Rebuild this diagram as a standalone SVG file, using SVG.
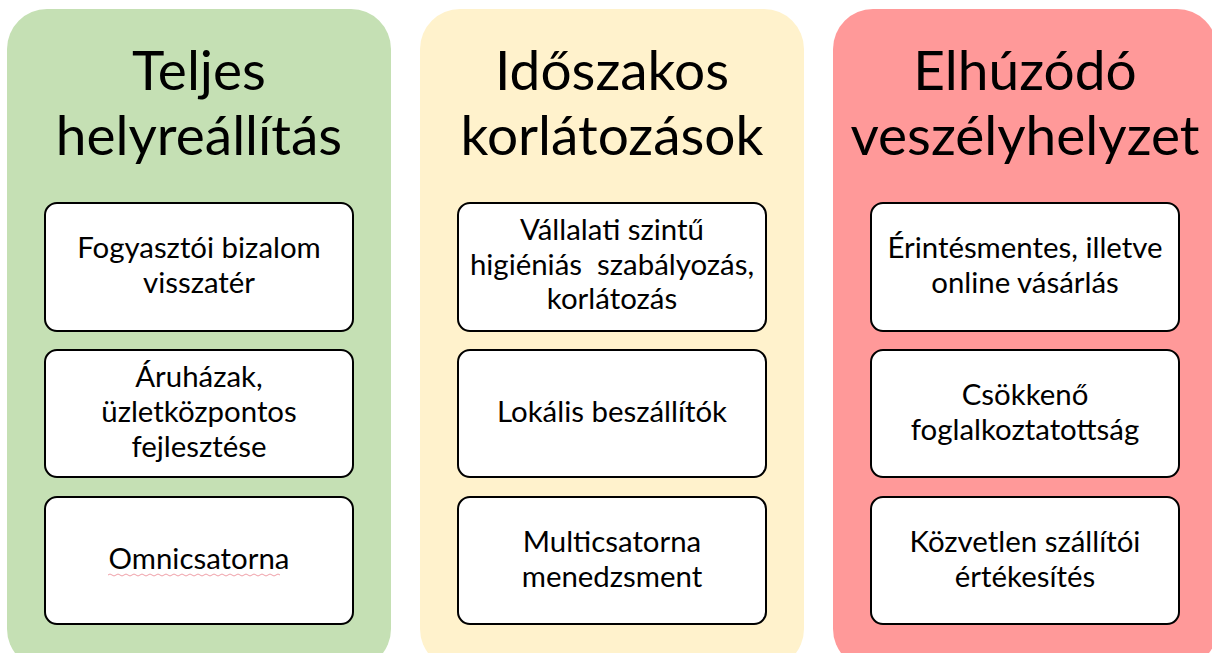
<svg xmlns="http://www.w3.org/2000/svg" width="1212" height="653" viewBox="0 0 1212 653">
<style>
.panel{stroke:none}
.box{fill:#fff;stroke:#000;stroke-width:2}
.title{font-family:Lato,"Liberation Sans",sans-serif;font-size:55px;fill:#000;text-anchor:middle}
.lbl{font-family:Lato,"Liberation Sans",sans-serif;font-size:29.4px;fill:#000;text-anchor:middle}
</style>
<rect width="1212" height="653" fill="#fff"/>
<g id="panel-teljes">
<rect class="panel" x="7" y="9" width="384" height="660" rx="40" fill="#C5E0B4"/>
<text class="title" x="199" y="90">Teljes</text>
<text class="title" x="199" y="155">helyreállítás</text>
</g>
<g id="panel-idoszakos">
<rect class="panel" x="420" y="9" width="384" height="660" rx="40" fill="#FFF2CC"/>
<text class="title" x="612" y="90">Időszakos</text>
<text class="title" x="612" y="155">korlátozások</text>
</g>
<g id="panel-elhuzodo">
<rect class="panel" x="833" y="9" width="384" height="660" rx="40" fill="#FF9999"/>
<text class="title" x="1025" y="90">Elhúzódó</text>
<text class="title" x="1025" y="155">veszélyhelyzet</text>
</g>
<g id="node-fogyasztoi">
<rect class="box" x="45" y="203" width="308" height="128" rx="12"/>
<text class="lbl" x="199" y="258">Fogyasztói bizalom</text>
<text class="lbl" x="199" y="293">visszatér</text>
</g>
<g id="node-aruhazak">
<rect class="box" x="45" y="350" width="308" height="127" rx="12"/>
<text class="lbl" x="199" y="387">Áruházak,</text>
<text class="lbl" x="199" y="422">üzletközpontos</text>
<text class="lbl" x="199" y="457">fejlesztése</text>
</g>
<g id="node-omnicsatorna">
<rect class="box" x="45" y="497" width="308" height="127" rx="12"/>
<text class="lbl" x="199" y="569">Omnicsatorna</text>
<path d="M108 575 q2 -2 4 0 t4 0 t4 0 t4 0 t4 0 t4 0 t4 0 t4 0 t4 0 t4 0 t4 0 t4 0 t4 0 t4 0 t4 0 t4 0 t4 0 t4 0 t4 0 t4 0 t4 0 t4 0 t4 0 t4 0 t4 0 t4 0 t4 0 t4 0 t4 0 t4 0 t4 0 t4 0 t4 0 t4 0 t4 0 t4 0 t4 0 t4 0 t4 0 t4 0 t4 0 t4 0 t4 0" fill="none" stroke="#F0A0A8" stroke-width="1"/>
</g>
<g id="node-vallalati">
<rect class="box" x="458" y="203" width="308" height="128" rx="12"/>
<text class="lbl" x="612" y="240">Vállalati szintű</text>
<text class="lbl" x="612" y="275" xml:space="preserve">higiéniás  szabályozás,</text>
<text class="lbl" x="612" y="309">korlátozás</text>
</g>
<g id="node-lokalis">
<rect class="box" x="458" y="350" width="308" height="127" rx="12"/>
<text class="lbl" x="612" y="422">Lokális beszállítók</text>
</g>
<g id="node-multicsatorna">
<rect class="box" x="458" y="497" width="308" height="127" rx="12"/>
<text class="lbl" x="612" y="552">Multicsatorna</text>
<text class="lbl" x="612" y="587">menedzsment</text>
</g>
<g id="node-erintesmentes">
<rect class="box" x="871" y="203" width="308" height="128" rx="12"/>
<text class="lbl" x="1025" y="258">Érintésmentes, illetve</text>
<text class="lbl" x="1025" y="293">online vásárlás</text>
</g>
<g id="node-csokkeno">
<rect class="box" x="871" y="350" width="308" height="127" rx="12"/>
<text class="lbl" x="1025" y="405">Csökkenő</text>
<text class="lbl" x="1025" y="440">foglalkoztatottság</text>
</g>
<g id="node-kozvetlen">
<rect class="box" x="871" y="497" width="308" height="127" rx="12"/>
<text class="lbl" x="1025" y="552">Közvetlen szállítói</text>
<text class="lbl" x="1025" y="587">értékesítés</text>
</g>
<g id="connectors"></g>
</svg>
